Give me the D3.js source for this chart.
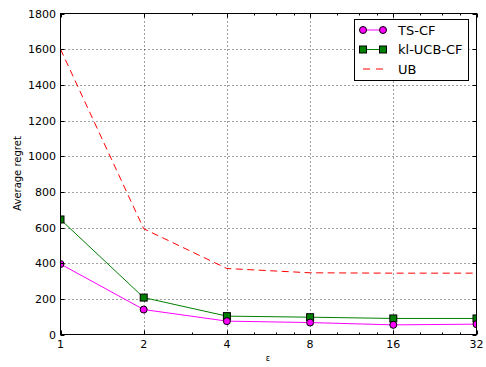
<!DOCTYPE html>
<html>
<head>
<meta charset="utf-8">
<script src="https://cdn.jsdelivr.net/npm/d3@7"></script>
<style>
  html, body { margin: 0; padding: 0; background: #fff; }
  text { font-family: "DejaVu Sans", sans-serif; fill: #000; }
</style>
</head>
<body>
<svg id="chart" width="486" height="367"></svg>
<script>
const epsilons = [1, 2, 4, 8, 16, 32];
const tsCF = [395, 140, 75, 67, 54, 58];
const klUCBCF = [645, 207, 103, 97, 90, 90];
const ub = [1600, 593, 370, 346, 344, 344];
const xTicks = [1, 2, 4, 8, 16, 32];
const xMinorTicks = [3, 5, 6, 7, 10, 12, 14, 20, 24, 28];
const yTicks = [0, 200, 400, 600, 800, 1000, 1200, 1400, 1600, 1800];
const seriesNames = ["TS-CF", "kl-UCB-CF", "UB"];

const svg = d3.select("#chart");
const L = 60.5, R = 476.5, T = 13.5, B = 334.5;
const x = d3.scaleLog().base(2).domain([1, 32]).range([L, R]);
const y = d3.scaleLinear().domain([0, 1800]).range([B, T]);

// grid
const grid = svg.append("g");
grid.selectAll(".gx").data(xTicks.slice(1, -1)).enter().append("line")
  .attr("x1", d => Math.round(x(d)) + 0.5).attr("x2", d => Math.round(x(d)) + 0.5)
  .attr("y1", T).attr("y2", B)
  .attr("stroke", "#000").attr("stroke-opacity", 0.75).attr("stroke-dasharray", "1,3");
grid.selectAll(".gy").data(yTicks.slice(1, -1)).enter().append("line")
  .attr("y1", d => Math.round(y(d)) + 0.5).attr("y2", d => Math.round(y(d)) + 0.5)
  .attr("x1", L).attr("x2", R)
  .attr("stroke", "#000").attr("stroke-opacity", 0.75).attr("stroke-dasharray", "1,3");

// clip
svg.append("defs").append("clipPath").attr("id", "clip")
  .append("rect").attr("x", L).attr("y", T).attr("width", R - L).attr("height", B - T);
const plot = svg.append("g").attr("clip-path", "url(#clip)");

const line = d3.line().x((d, i) => x(epsilons[i])).y(d => y(d));

plot.append("path").datum(ub).attr("d", line)
  .attr("fill", "none").attr("stroke", "#ff0000").attr("stroke-width", 1)
  .attr("stroke-dasharray", "7,4.5");
plot.append("path").datum(klUCBCF).attr("d", line)
  .attr("fill", "none").attr("stroke", "#008000").attr("stroke-width", 1);
plot.append("path").datum(tsCF).attr("d", line)
  .attr("fill", "none").attr("stroke", "#ff00ff").attr("stroke-width", 1);

plot.selectAll(".sq").data(klUCBCF).enter().append("rect")
  .attr("x", (d, i) => x(epsilons[i]) - 3.5).attr("y", d => y(d) - 3.5)
  .attr("width", 7).attr("height", 7)
  .attr("fill", "#008000").attr("stroke", "#000").attr("stroke-width", 1);
plot.selectAll(".ci").data(tsCF).enter().append("circle")
  .attr("cx", (d, i) => x(epsilons[i])).attr("cy", d => y(d)).attr("r", 3.5)
  .attr("fill", "#ff00ff").attr("stroke", "#000").attr("stroke-width", 1);

// frame
svg.append("rect").attr("x", L).attr("y", T).attr("width", R - L).attr("height", B - T)
  .attr("fill", "none").attr("stroke", "#000").attr("stroke-width", 1);

// ticks
const tk = svg.append("g").attr("stroke", "#000").attr("stroke-width", 1);
xTicks.forEach(d => {
  const px = Math.round(x(d)) + 0.5;
  tk.append("line").attr("x1", px).attr("x2", px).attr("y1", B).attr("y2", B - 4);
  tk.append("line").attr("x1", px).attr("x2", px).attr("y1", T).attr("y2", T + 4);
});
xMinorTicks.forEach(d => {
  const px = Math.round(x(d)) + 0.5;
  tk.append("line").attr("x1", px).attr("x2", px).attr("y1", B).attr("y2", B - 2);
  tk.append("line").attr("x1", px).attr("x2", px).attr("y1", T).attr("y2", T + 2);
});
yTicks.forEach(d => {
  const py = Math.round(y(d)) + 0.5;
  tk.append("line").attr("y1", py).attr("y2", py).attr("x1", L).attr("x2", L + 4);
  tk.append("line").attr("y1", py).attr("y2", py).attr("x1", R).attr("x2", R - 4);
});

// tick labels
svg.append("g").selectAll("text").data(xTicks).enter().append("text")
  .attr("x", d => x(d)).attr("y", 347.5).attr("text-anchor", "middle")
  .attr("font-size", 11).text(d => d);
svg.append("g").selectAll("text").data(yTicks).enter().append("text")
  .attr("x", 56).attr("y", d => y(d) + 4).attr("text-anchor", "end")
  .attr("font-size", 11).text(d => d);

// axis titles
svg.append("text").attr("transform", "translate(21,173.5) rotate(-90)")
  .attr("text-anchor", "middle").attr("font-size", 10).text("Average regret");
svg.append("text").attr("x", 268).attr("y", 361).attr("text-anchor", "middle")
  .attr("font-size", 8).text("\u03b5");

// legend
const lg = svg.append("g");
lg.append("rect").attr("x", 354.5).attr("y", 19.5).attr("width", 114).attr("height", 61)
  .attr("fill", "#fff").attr("stroke", "#000").attr("stroke-width", 1);
const ly = [30, 49.5, 69];
// TS-CF
lg.append("line").attr("x1", 363).attr("x2", 383).attr("y1", ly[0]).attr("y2", ly[0])
  .attr("stroke", "#ff00ff");
[363, 383].forEach(px => lg.append("circle").attr("cx", px).attr("cy", ly[0]).attr("r", 3.5)
  .attr("fill", "#ff00ff").attr("stroke", "#000"));
// kl-UCB-CF
lg.append("line").attr("x1", 363).attr("x2", 383).attr("y1", ly[1]).attr("y2", ly[1])
  .attr("stroke", "#008000");
[363, 383].forEach(px => lg.append("rect").attr("x", px - 3.5).attr("y", ly[1] - 3.5)
  .attr("width", 7).attr("height", 7).attr("fill", "#008000").attr("stroke", "#000"));
// UB
lg.append("line").attr("x1", 363).attr("x2", 383).attr("y1", ly[2]).attr("y2", ly[2])
  .attr("stroke", "#ff0000").attr("stroke-dasharray", "7,6");
lg.selectAll(".lt").data(seriesNames).enter().append("text")
  .attr("x", 398).attr("y", (d, i) => ly[i] + 4.5).attr("font-size", 13).text(d => d);
</script>
</body>
</html>
